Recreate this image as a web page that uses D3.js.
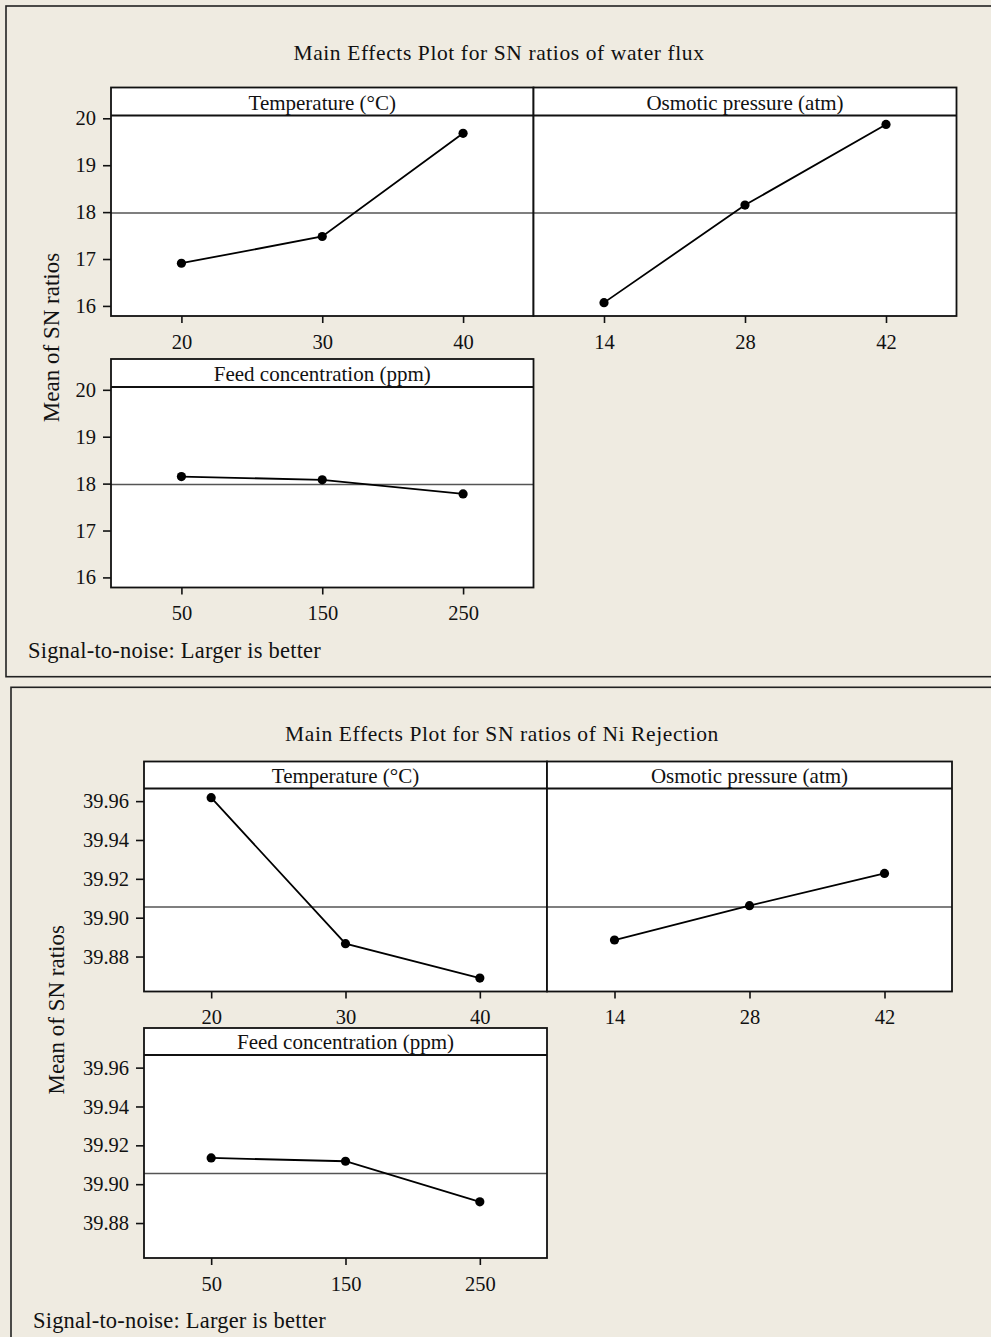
<!DOCTYPE html>
<html>
<head>
  <meta charset="utf-8">
  <title>Main Effects Plots</title>
  <script src="https://d3js.org/d3.v7.min.js"></script>
  <style>
    body {
      margin: 0;
      padding: 0;
      background-color: #efebe1;
    }
    svg {
      font-family: "Liberation Serif", "Times New Roman", serif;
      display: block;
    }
    .tick text {
      font-family: "Liberation Serif", "Times New Roman", serif;
      font-size: 20.5px;
      fill: #111;
    }
    .tick line {
      stroke: #111;
      stroke-width: 1.6px;
    }
  </style>
</head>
<body>
  <div id="chart"></div>

  <script>
    // Data
    var factors = ["Temperature (°C)", "Osmotic pressure (atm)", "Feed concentration (ppm)"];
    var levels = [["20", "30", "40"], ["14", "28", "42"], ["50", "150", "250"]];

    var fluxSN = [[16.91, 17.48, 19.68], [16.07, 18.15, 19.87], [18.15, 18.08, 17.78]];
    var fluxTicks = [16, 17, 18, 19, 20];
    var fluxMean = 17.98;

    var niSN = [[39.9618, 39.8866, 39.8689], [39.8885, 39.9062, 39.9228], [39.9135, 39.9118, 39.8909]];
    var niTicks = [39.88, 39.90, 39.92, 39.94, 39.96];
    var niMean = 39.9055;

    var width = 991, height = 1337;

    var svg = d3.select("#chart")
      .append("svg")
        .attr("width", width)
        .attr("height", height);

    // layout of each figure (positions only)
    var charts = [
      {
        title: "Main Effects Plot for SN ratios of water flux",
        values: fluxSN, ticks: fluxTicks, mean: fluxMean, fmt: d3.format("d"),
        domain: [15.785, 20.06],
        frame: { x: 6, y: 6, w: 1000, h: 670.7 },
        titleX: 499,
        cols: [111, 533.5, 956.5], rows: [87.5, 359], headerH: 28, plotH: 200.5
      },
      {
        title: "Main Effects Plot for SN ratios of Ni Rejection",
        values: niSN, ticks: niTicks, mean: niMean, fmt: d3.format(".2f"),
        domain: [39.862, 39.9665],
        frame: { x: 11, y: 687.3, w: 1000, h: 700 },
        titleX: 502,
        cols: [144, 547, 952], rows: [761.5, 1028], headerH: 27, plotH: 203
      }
    ];

    charts.forEach(function(c) {
      var g = svg.append("g");

      g.append("rect")
        .attr("x", c.frame.x).attr("y", c.frame.y)
        .attr("width", c.frame.w).attr("height", c.frame.h)
        .attr("fill", "#efebe1")
        .attr("stroke", "#222")
        .attr("stroke-width", 1.6);

      g.append("text")
        .attr("x", c.titleX)
        .attr("y", c.frame.y + 54)
        .attr("text-anchor", "middle")
        .attr("font-size", "21.5px")
        .attr("letter-spacing", "0.6px")
        .attr("fill", "#111")
        .text(c.title);

      // panel positions: two on the first row, one on the second
      var slots = [
        { x0: c.cols[0], x1: c.cols[1], top: c.rows[0] },
        { x0: c.cols[1], x1: c.cols[2], top: c.rows[0] },
        { x0: c.cols[0], x1: c.cols[1], top: c.rows[1] }
      ];

      slots.forEach(function(s, i) {
        var plotTop = s.top + c.headerH,
            plotBottom = plotTop + c.plotH;

        var x = d3.scalePoint()
          .domain(levels[i])
          .range([s.x0, s.x1])
          .padding(0.5);

        var y = d3.scaleLinear()
          .domain(c.domain)
          .range([plotBottom, plotTop]);

        var p = g.append("g").attr("class", "panel");

        p.append("rect")
          .attr("x", s.x0).attr("y", s.top)
          .attr("width", s.x1 - s.x0).attr("height", plotBottom - s.top)
          .attr("fill", "white");

        // reference line at the overall mean
        p.append("line")
          .attr("x1", s.x0).attr("x2", s.x1)
          .attr("y1", y(c.mean)).attr("y2", y(c.mean))
          .attr("stroke", "#555")
          .attr("stroke-width", 1.5);

        var line = d3.line()
          .x(function(d, j) { return x(levels[i][j]); })
          .y(function(d) { return y(d); });

        p.append("path")
          .datum(c.values[i])
          .attr("d", line)
          .attr("fill", "none")
          .attr("stroke", "#000")
          .attr("stroke-width", 1.8);

        p.selectAll("circle")
          .data(c.values[i])
          .enter()
          .append("circle")
            .attr("cx", function(d, j) { return x(levels[i][j]); })
            .attr("cy", function(d) { return y(d); })
            .attr("r", 4.6)
            .attr("fill", "#000");

        // header strip
        p.append("line")
          .attr("x1", s.x0).attr("x2", s.x1)
          .attr("y1", plotTop).attr("y2", plotTop)
          .attr("stroke", "#111")
          .attr("stroke-width", 1.8);

        p.append("text")
          .attr("x", (s.x0 + s.x1) / 2)
          .attr("y", plotTop - 6)
          .attr("text-anchor", "middle")
          .attr("font-size", "21px")
          .attr("fill", "#111")
          .text(factors[i]);

        p.append("rect")
          .attr("x", s.x0).attr("y", s.top)
          .attr("width", s.x1 - s.x0).attr("height", plotBottom - s.top)
          .attr("fill", "none")
          .attr("stroke", "#111")
          .attr("stroke-width", 1.8);

        // x axis
        var xAxis = p.append("g")
          .attr("transform", "translate(0," + plotBottom + ")")
          .call(d3.axisBottom(x).tickSize(7).tickPadding(11));
        xAxis.select(".domain").remove();
        xAxis.attr("font-family", null).attr("font-size", null);

        // y axis on the left column only
        if (s.x0 === c.cols[0]) {
          var yAxis = p.append("g")
            .attr("transform", "translate(" + s.x0 + ",0)")
            .call(d3.axisLeft(y).tickValues(c.ticks).tickFormat(c.fmt).tickSize(8).tickPadding(7));
          yAxis.select(".domain").remove();
          yAxis.attr("font-family", null).attr("font-size", null);
        }
      });

      var rowsTop = c.rows[0],
          rowsBottom = c.rows[1] + c.headerH + c.plotH;

      g.append("text")
        .attr("transform", "translate(" + (c.frame.x + 45) + "," + ((rowsTop + rowsBottom) / 2) + ") rotate(-90)")
        .attr("text-anchor", "middle")
        .attr("dy", "0.35em")
        .attr("font-size", "23px")
        .attr("fill", "#111")
        .text("Mean of SN ratios");

      g.append("text")
        .attr("x", c.frame.x + 22)
        .attr("y", rowsBottom + 70)
        .attr("font-size", "22.5px")
        .attr("letter-spacing", "0.2px")
        .attr("fill", "#111")
        .text("Signal-to-noise: Larger is better");
    });
  </script>
</body>
</html>
